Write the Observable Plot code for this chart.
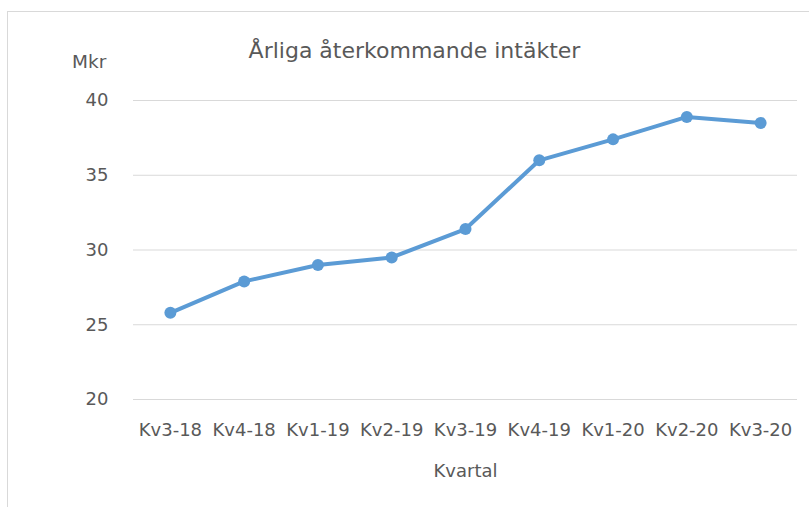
<!DOCTYPE html>
<html><head><meta charset="utf-8">
<script src="https://cdn.jsdelivr.net/npm/d3@7"></script>
<script src="https://cdn.jsdelivr.net/npm/@observablehq/plot@0.6"></script>
<style>
html,body{margin:0;padding:0;background:#fff;}
#wrap{position:relative;width:809px;height:507px;overflow:hidden;font-family:"DejaVu Sans",sans-serif;color:#595959;}
#frame{position:absolute;left:7px;top:11px;width:900px;height:600px;border:1px solid #d9d9d9;box-sizing:border-box;}
#title{position:absolute;left:0;width:829px;top:38px;text-align:center;font-size:22px;line-height:26px;}
#unit{position:absolute;left:72px;top:51px;font-size:18.5px;line-height:22px;}
#plot{position:absolute;left:0;top:0;}
</style></head><body>
<div id="wrap"><div id="frame"></div><div id="plot"></div>
<div id="title">Årliga återkommande intäkter</div><div id="unit">Mkr</div></div>
<script>
const quarters = ["Kv3-18","Kv4-18","Kv1-19","Kv2-19","Kv3-19","Kv4-19","Kv1-20","Kv2-20","Kv3-20"];
const values = [25.8, 27.9, 29.0, 29.5, 31.4, 36.0, 37.4, 38.9, 38.5];
const yTicks = [20, 25, 30, 35, 40];
const data = quarters.map((q, i) => ({q, v: values[i]}));
const chart = Plot.plot({
  width: 809, height: 507,
  marginLeft: 133, marginRight: 12, marginTop: 100, marginBottom: 108,
  style: {fontFamily: '"DejaVu Sans", sans-serif', fontSize: "18px", color: "#595959", background: "transparent"},
  x: {type: "band", domain: quarters, padding: 0, round: false, label: null},
  y: {domain: [20, 40], label: null},
  marks: [
    Plot.gridY(yTicks, {stroke: "#d9d9d9", strokeOpacity: 1, strokeWidth: 1}),
    Plot.axisY(yTicks, {tickSize: 0, tickPadding: 25, fontSize: 18, fill: "#595959"}),
    Plot.axisX({tickSize: 0, tickPadding: 24, fontSize: 18, fill: "#595959"}),
    Plot.text(["Kvartal"], {frameAnchor: "bottom", dy: 77, fontSize: 18, fill: "#595959"}),
    Plot.line(data, {x: "q", y: "v", stroke: "#5b9bd5", strokeWidth: 4}),
    Plot.dot(data, {x: "q", y: "v", fill: "#5b9bd5", r: 6})
  ]
});
document.getElementById("plot").appendChild(chart);
</script></body></html>
